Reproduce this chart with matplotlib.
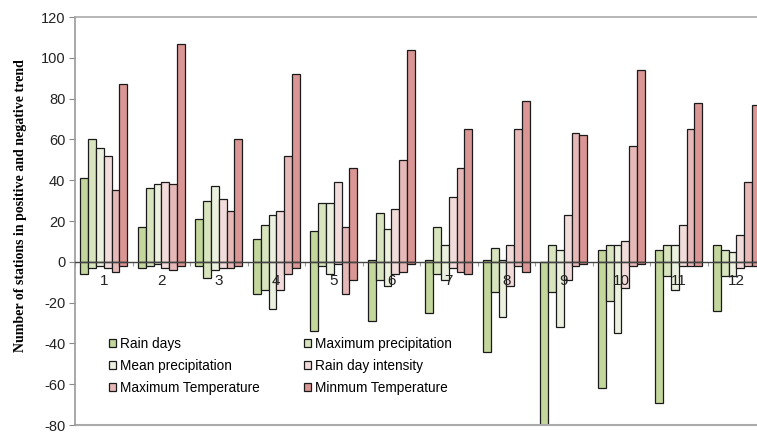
import numpy as np
import matplotlib
matplotlib.use('Agg')
import matplotlib.pyplot as plt
from matplotlib.patches import Patch

months = ['1', '2', '3', '4', '5', '6', '7', '8', '9', '10', '11', '12']

series_names = ['Rain days', 'Maximum precipitation', 'Mean precipitation',
                'Rain day intensity', 'Maximum Temperature', 'Minmum Temperature']

rain_pos = [41, 17, 21, 11, 15, 1, 1, 1, 0, 6, 6, 8]
rain_neg = [-6, -3, -2, -16, -34, -29, -25, -44, -80, -62, -69, -24]
maxp_pos = [60, 36, 30, 18, 29, 24, 17, 7, 8, 8, 8, 6]
maxp_neg = [-3, -2, -8, -14, -2, -9, -6, -15, -15, -19, -7, -7]
mean_pos = [56, 38, 37, 23, 29, 16, 8, 1, 6, 8, 8, 5]
mean_neg = [-2, -1, -4, -23, -6, -12, -9, -27, -32, -35, -14, -7]
rdi_pos = [52, 39, 31, 25, 39, 26, 32, 8, 23, 10, 18, 13]
rdi_neg = [-3, -3, -3, -14, -1, -6, -3, -12, -9, -13, -2, -3]
maxt_pos = [35, 38, 25, 52, 17, 50, 46, 65, 63, 57, 65, 39]
maxt_neg = [-5, -4, -3, -6, -16, -5, -5, -2, -2, -2, -2, -2]
mint_pos = [87, 107, 60, 92, 46, 104, 65, 79, 62, 94, 78, 77]
mint_neg = [-2, -2, -2, -3, -9, -1, -6, -5, -1, -1, -2, -2]

positives = [rain_pos, maxp_pos, mean_pos, rdi_pos, maxt_pos, mint_pos]
negatives = [rain_neg, maxp_neg, mean_neg, rdi_neg, maxt_neg, mint_neg]
colors = ['#c3d69b', '#d7e4bd', '#ebf1de', '#f2dcdb', '#e6b9b8', '#d99694']

plt.rcParams['font.family'] = ['Liberation Sans', 'DejaVu Sans']
plt.rcParams['axes.unicode_minus'] = False

fig = plt.figure(figsize=(7.57, 4.34), dpi=100)
ax = fig.add_axes([0.0991, 0.0207, 0.9115, 0.9401])

x = np.arange(len(months))
w = 0.135
for i in range(6):
    off = (i - 2.5) * w
    # bars stay under the axis so the zero line and month labels show through
    ax.bar(x + off, positives[i], w, color=colors[i], edgecolor='#1a1a1a', linewidth=0.9)
    ax.bar(x + off, negatives[i], w, color=colors[i], edgecolor='#1a1a1a', linewidth=0.9)

ax.set_xlim(-0.5, 11.5)
ax.set_ylim(-80, 120)
ax.set_yticks(range(-80, 121, 20))
ax.tick_params(axis='y', direction='out', length=4, color='#888888', labelsize=10.5, pad=3, labelcolor='#222222')

# category axis sits on zero
ax.spines['bottom'].set_position(('data', 0))
ax.spines['bottom'].set_color('#444444')
ax.spines['bottom'].set_linewidth(1.0)
ax.spines['left'].set_color('#999999')
ax.spines['left'].set_linewidth(1.2)
ax.spines['top'].set_color('#aaaaaa')
ax.spines['top'].set_linewidth(1.2)
ax.spines['right'].set_visible(False)
ax.axhline(-80, color='#aaaaaa', linewidth=1.5, clip_on=False)

ax.set_xticks(np.arange(-0.5, 12, 1))
ax.set_xticklabels([])
ax.tick_params(axis='x', which='major', direction='out', length=3, color='#999999')
ax.set_xticks(x, minor=True)
ax.set_xticklabels(months, minor=True)
ax.tick_params(axis='x', which='minor', length=0, pad=9, labelsize=11, labelcolor='#222222')

ax.set_ylabel('Number of stations in positive and negative trend', fontsize=10,
              fontweight='bold', family=['Liberation Serif'])
ax.yaxis.set_label_coords(-0.07, 0.537)

handles = [Patch(facecolor=c, edgecolor='#1a1a1a', linewidth=0.9) for c in colors]
order = [0, 2, 4, 1, 3, 5]
ax.legend([handles[k] for k in order], [series_names[k] for k in order], ncol=2,
          loc='lower left', bbox_to_anchor=(0.035, 0.05), frameon=False, fontsize=9.8,
          handlelength=0.55, handleheight=0.55, handletextpad=0.3, columnspacing=3.2,
          labelspacing=0.6, borderpad=0.2)

fig.savefig('out.png', dpi=100)
